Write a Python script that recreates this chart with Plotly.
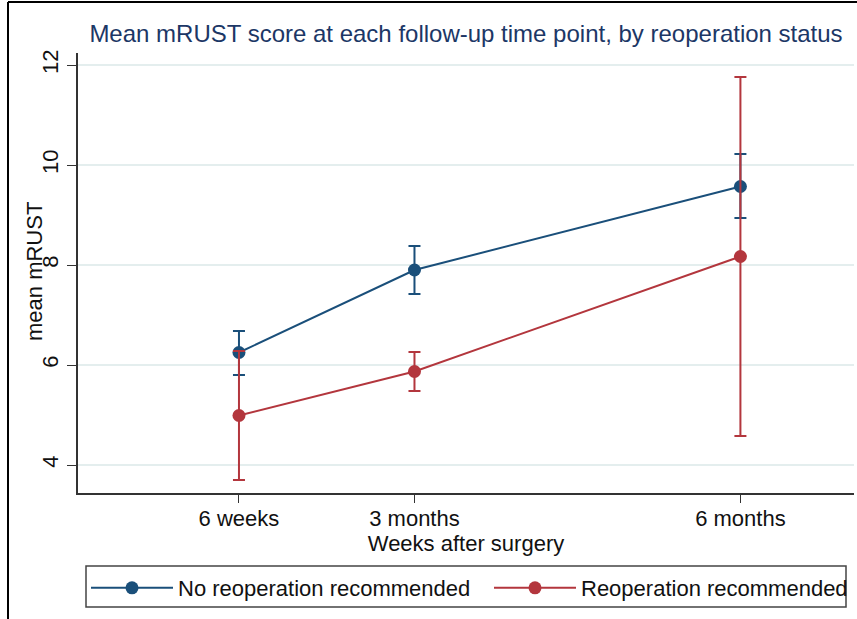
import plotly.graph_objects as go

# ---- data ----
weeks = [6, 13, 26]
tick_labels = ["6 weeks", "3 months", "6 months"]
series_names = ["No reoperation recommended", "Reoperation recommended"]
no_reop_mean = [6.25, 7.90, 9.57]
no_reop_lo = [5.80, 7.42, 8.94]
no_reop_hi = [6.68, 8.38, 10.22]
reop_mean = [4.99, 5.87, 8.17]
reop_lo = [3.70, 5.48, 4.58]
reop_hi = [6.28, 6.26, 11.76]

BLUE = "#1a4f7a"
RED = "#b3363d"
FONT = "Liberation Sans, Arial, sans-serif"

W, H = 857, 619
L, R, T, B = 78, 3, 53, 126
PW, PH = W - L - R, H - T - B


def px_x(p):
    return (p - L) / PW


def px_y(p):
    return (H - B - p) / PH


fig = go.Figure()
for i, (name, m, lo, hi, col) in enumerate([
    (series_names[0], no_reop_mean, no_reop_lo, no_reop_hi, BLUE),
    (series_names[1], reop_mean, reop_lo, reop_hi, RED),
]):
    fig.add_trace(go.Scatter(
        x=weeks, y=m, name=name, mode="lines+markers",
        legend="legend" if i == 0 else "legend2",
        line=dict(color=col, width=2),
        marker=dict(color=col, size=13),
        error_y=dict(type="data", symmetric=False,
                     array=[h - v for h, v in zip(hi, m)],
                     arrayminus=[v - l for v, l in zip(m, lo)],
                     color=col, thickness=2, width=6),
    ))

leg_common = dict(orientation="h", xanchor="left", yanchor="top",
                  borderwidth=0, font=dict(size=22), itemwidth=82,
                  bgcolor="rgba(0,0,0,0)")

fig.update_layout(
    width=W, height=H,
    margin=dict(l=L, r=R, t=T, b=B),
    paper_bgcolor="white", plot_bgcolor="white",
    font=dict(family=FONT, size=22, color="#111111"),
    title=dict(text="Mean mRUST score at each follow-up time point, by reoperation status",
               x=px_x(466), xref="paper", xanchor="center",
               y=1 - 34 / H, yanchor="middle",
               font=dict(size=24, color="#1c3766")),
    xaxis=dict(range=[-0.42, 30.53], tickvals=weeks, ticktext=tick_labels,
               showgrid=False, zeroline=False, showline=True, linecolor="#333333",
               linewidth=1.5, ticks="outside", ticklen=8, tickcolor="#333333",
               tickfont=dict(size=22), ticklabelstandoff=-3,
               title=dict(text="Weeks after surgery", font=dict(size=22), standoff=0)),
    yaxis=dict(range=[3.44, 12.24], tickvals=[4, 6, 8, 10, 12],
               tickangle=-90, showgrid=True, gridcolor="#e4eeee", gridwidth=1.5,
               zeroline=False, showline=True, linecolor="#333333", linewidth=1.5,
               ticks="outside", ticklen=9, tickcolor="#333333",
               tickfont=dict(size=22), ticklabelstandoff=0),
    legend=dict(x=px_x(86), y=px_y(567), **leg_common),
    legend2=dict(x=px_x(489), y=px_y(567), **leg_common),
    showlegend=True,
)

# legend frame
fig.add_shape(type="rect", xref="paper", yref="paper", layer="below",
              x0=px_x(86), x1=px_x(846), y0=px_y(566), y1=px_y(607),
              line=dict(color="#444444", width=1.5), fillcolor="white")

fig.add_annotation(text="mean mRUST", textangle=-90, xref="paper", yref="paper",
                   x=px_x(34), y=px_y(272), xanchor="center", yanchor="middle",
                   showarrow=False, font=dict(size=22, color="#111111"))

# outer frame lines (top and left)
fig.add_shape(type="line", xref="paper", yref="paper",
              x0=px_x(8), x1=px_x(857), y0=px_y(2), y1=px_y(2),
              line=dict(color="black", width=2))
fig.add_shape(type="line", xref="paper", yref="paper",
              x0=px_x(8), x1=px_x(8), y0=px_y(2), y1=px_y(619),
              line=dict(color="black", width=2))

fig.write_html("out.html", config={"displayModeBar": False},
               post_script="document.body.style.margin='0px';document.body.style.overflow='hidden';")
